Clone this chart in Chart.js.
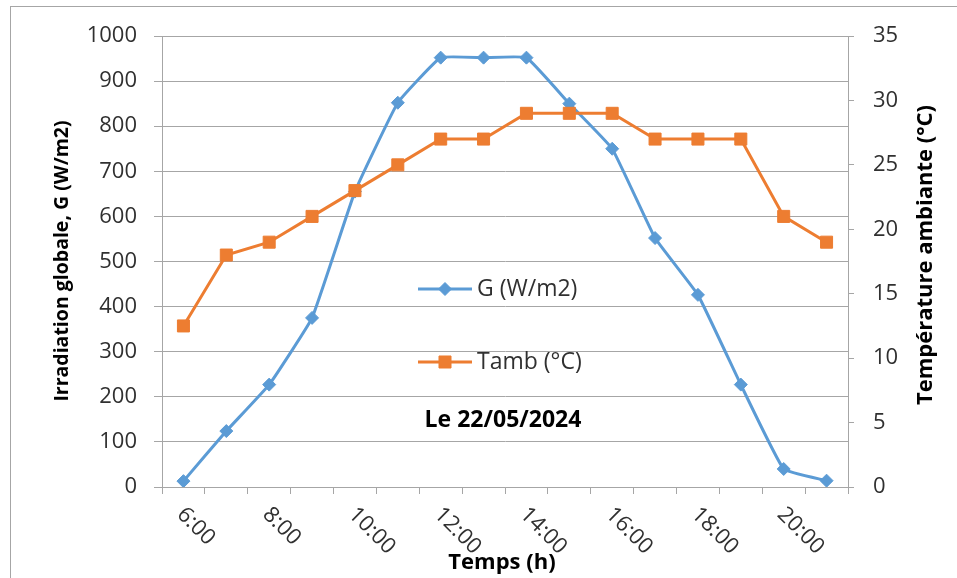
<!DOCTYPE html>
<html>
<head>
<meta charset="utf-8">
<script src="https://cdn.jsdelivr.net/npm/chart.js@4.4.1/dist/chart.umd.min.js"></script>
<style>
  body { margin: 0; background: #fff; }
  canvas { display: block; }
</style>
</head>
<body>
<canvas id="chart" width="957" height="578"></canvas>
<script>
const hours = ['6:00', '7:00', '8:00', '9:00', '10:00', '11:00', '12:00', '13:00',
  '14:00', '15:00', '16:00', '17:00', '18:00', '19:00', '20:00', '21:00'];
const irradiation = [13, 124, 227, 375, 655, 852, 952, 952, 952, 850, 750, 552, 426, 227, 40, 14];
const tamb = [12.5, 18, 19, 21, 23, 25, 27, 27, 29, 29, 29, 27, 27, 27, 21, 19];

const BLUE = '#5B9BD5', ORANGE = '#ED7D31', GRID = '#A6A6A6', TXT = '#303030';
const FONT = "'Open Sans', sans-serif";

Chart.defaults.font.family = FONT;
Chart.defaults.color = TXT;

// Excel-style extras: frame, rotated x labels, axis titles, legend inside the plot
const extras = {
  id: 'extras',
  afterDraw(chart) {
    const ctx = chart.ctx;
    const x = chart.scales.x;
    ctx.save();

    ctx.strokeStyle = GRID;
    ctx.lineWidth = 1;
    ctx.strokeRect(10.5, 6.5, 1000, 1000);

    // x tick labels, every 2 hours, turned clockwise
    ctx.fillStyle = TXT;
    ctx.font = '22px ' + FONT;
    ctx.textAlign = 'left';
    ctx.textBaseline = 'middle';
    hours.forEach((h, i) => {
      if (i % 2) return;
      ctx.save();
      ctx.translate(x.getPixelForValue(i) - 3, 511);
      ctx.rotate(Math.PI / 4);
      ctx.fillText(h, 0, 0);
      ctx.restore();
    });

    // axis titles
    ctx.fillStyle = '#000';
    ctx.textAlign = 'center';
    ctx.font = 'bold 22px ' + FONT;
    ctx.fillText('Temps (h)', 502, 563);

    ctx.save();
    ctx.font = 'bold 19.5px ' + FONT;
    ctx.translate(62, 261);
    ctx.rotate(-Math.PI / 2);
    ctx.fillText('Irradiation globale, G (W/m2)', 0, 0);
    ctx.restore();

    ctx.save();
    ctx.font = 'bold 22px ' + FONT;
    ctx.translate(926, 255);
    ctx.rotate(-Math.PI / 2);
    ctx.fillText('Température ambiante (°C)', 0, 0);
    ctx.restore();

    ctx.font = 'bold 23px ' + FONT;
    ctx.fillText('Le 22/05/2024', 503, 420);

    // legend
    const items = [
      { label: 'G (W/m2)', color: BLUE, style: 'rectRot', r: 6.5, y: 289 },
      { label: 'Tamb (°C)', color: ORANGE, style: 'rect', r: 8.5, y: 362 }
    ];
    items.forEach(it => {
      ctx.strokeStyle = it.color;
      ctx.lineWidth = 3;
      ctx.beginPath();
      ctx.moveTo(418, it.y);
      ctx.lineTo(472, it.y);
      ctx.stroke();
      ctx.fillStyle = it.color;
      ctx.lineWidth = 1;
      Chart.helpers.drawPoint(ctx, { pointStyle: it.style, radius: it.r, rotation: 0, borderWidth: 1 }, 445, it.y);
      ctx.fillStyle = TXT;
      ctx.font = '23px ' + FONT;
      ctx.textAlign = 'left';
      ctx.fillText(it.label, 477, it.y);
    });

    ctx.restore();
  }
};

new Chart(document.getElementById('chart'), {
  type: 'line',
  data: {
    labels: hours,
    datasets: [
      {
        label: 'G (W/m2)',
        data: irradiation,
        yAxisID: 'y',
        borderColor: BLUE,
        backgroundColor: BLUE,
        borderWidth: 3,
        pointStyle: 'rectRot',
        pointRadius: 6.5,
        pointBorderWidth: 1,
        tension: 0.1,
        order: 1
      },
      {
        label: 'Tamb (°C)',
        data: tamb,
        yAxisID: 'y1',
        borderColor: ORANGE,
        backgroundColor: ORANGE,
        borderWidth: 3,
        pointStyle: 'rect',
        pointRadius: 8.5,
        pointBorderWidth: 1,
        tension: 0,
        order: 0
      }
    ]
  },
  options: {
    responsive: false,
    animation: false,
    layout: { padding: { top: 36, left: 0, right: 0, bottom: 0 } },
    plugins: { legend: { display: false }, tooltip: { enabled: false } },
    scales: {
      x: {
        offset: true,
        grid: { offset: true, drawOnChartArea: false, tickLength: 7, color: GRID },
        border: { color: GRID },
        ticks: { autoSkip: false, maxRotation: 0, callback: () => '' },
        afterFit: s => { s.height = 91; }
      },
      y: {
        position: 'left',
        min: 0, max: 1000,
        ticks: { stepSize: 100, padding: 17, font: { size: 22 }, color: TXT, callback: v => String(v) },
        grid: { color: GRID, tickLength: 8 },
        border: { color: GRID },
        afterFit: s => { s.width = 162; }
      },
      y1: {
        position: 'right',
        min: 0, max: 35,
        ticks: { stepSize: 5, padding: 19, font: { size: 22 }, color: TXT, callback: v => String(v) },
        grid: { drawOnChartArea: false, color: GRID, tickLength: 6 },
        border: { color: GRID },
        afterFit: s => { s.width = 109; }
      }
    }
  },
  plugins: [extras]
});
</script>
</body>
</html>
